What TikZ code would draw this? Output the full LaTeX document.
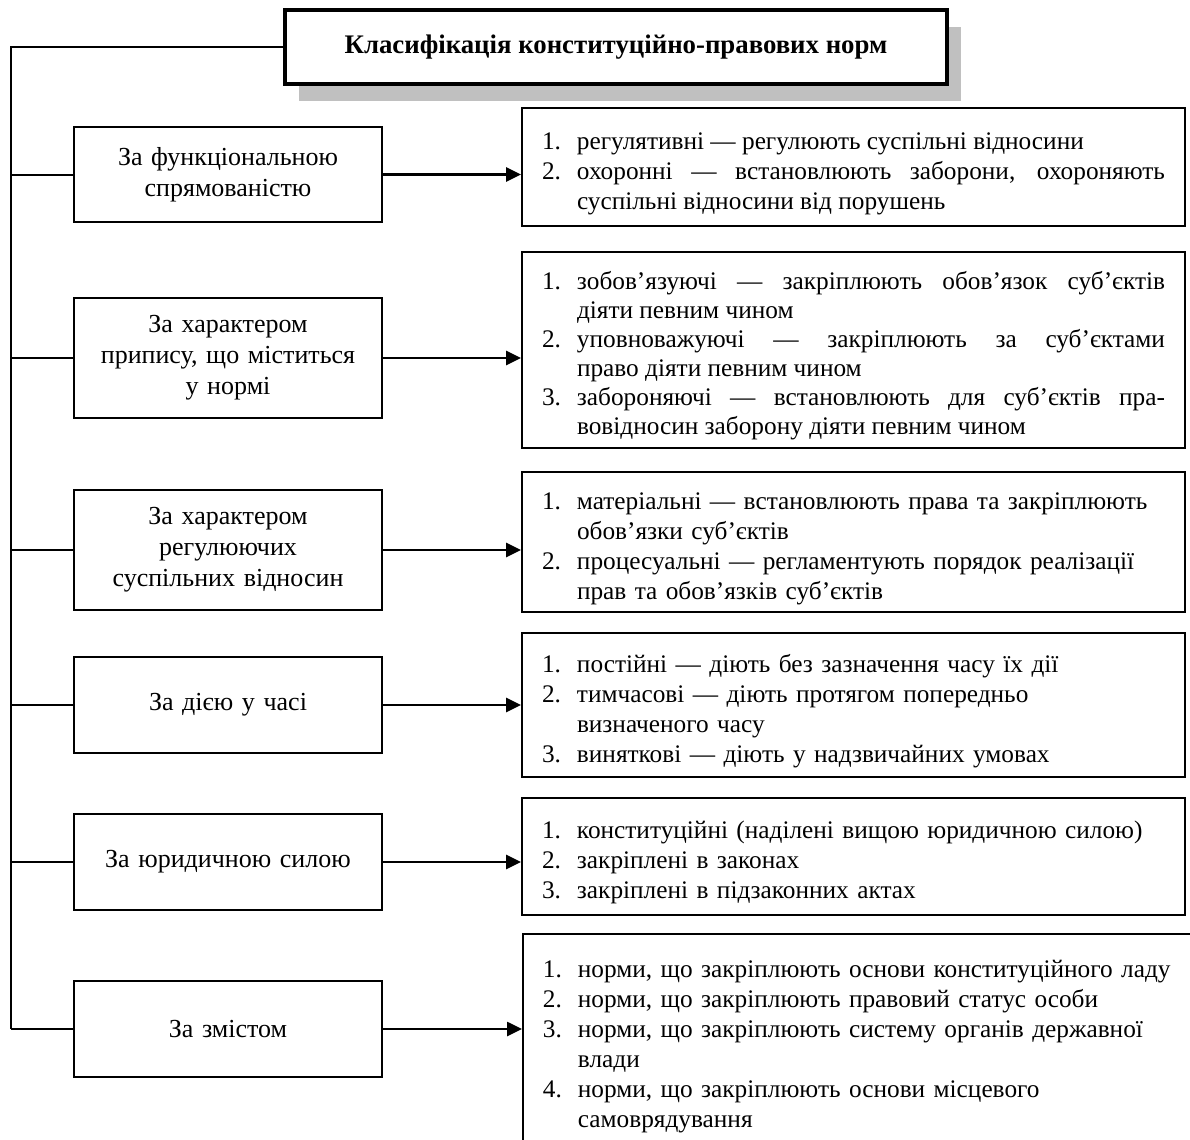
\documentclass[tikz,border=0pt]{standalone}
\usepackage{fontspec}
\setmainfont{Liberation Serif}
\usetikzlibrary{arrows.meta,shadows}
\definecolor{kpnInk}{HTML}{000000}
\definecolor{kpnShadow}{HTML}{C0C0C0}
% numbered item with hanging indent (one paragraph each)
\newcommand\kpnitem[2]{\par\noindent\hangindent=17.5pt\hangafter=1\makebox[17.5pt][l]{#1}#2\par}
\tikzset{
  kpn title/.style={draw=kpnInk, line width=1.7pt, fill=white, minimum width=331pt, minimum height=37pt, inner sep=0pt,
    font=\bfseries\fontsize{13.4}{16}\selectfont,
    drop shadow={shadow xshift=7pt, shadow yshift=-8.25pt, fill=kpnShadow, opacity=1}},
  kpn crit/.style={draw=kpnInk, line width=0.9pt, minimum width=154pt, text width=146pt, inner xsep=4pt, align=center,
    font=\fontsize{13}{15.5}\selectfont},
  kpn list/.style={draw=kpnInk, line width=0.9pt, text width=311.5pt, inner xsep=10pt, align=left,
    font=\fontsize{12.65}{15}\selectfont},
  kpn spine/.style={draw=kpnInk, line width=1.1pt},
  kpn link/.style={draw=kpnInk, line width=1pt},
  kpn arrow/.style={draw=kpnInk, line width=1.3pt, -{Triangle[length=7.5pt, width=7pt]}},
}

\begin{document}
\begin{tikzpicture}[x=0.5pt, y=-0.5pt]
  \useasboundingbox (0,0) rectangle (1190,1140);
  % Title with grey shadow
  \node[kpn title] (title) at (616,47) {Класифікація конституційно-правових норм};
  % Criteria (left column)
  \node[kpn crit, minimum height=47.5pt] (b1) at (228,174.5) {За функціональною\\ спрямованістю};
  \node[kpn crit, minimum height=60pt] (b2) at (228,358) {За характером\\ припису, що міститься\\ у нормі};
  \node[kpn crit, minimum height=60pt] (b3) at (228,550) {За характером\\ регулюючих\\ суспільних відносин};
  \node[kpn crit, minimum height=48pt] (b4) at (228,705) {За дією у часі};
  \node[kpn crit, minimum height=48pt] (b5) at (228,862) {За юридичною силою};
  \node[kpn crit, minimum height=48pt] (b6) at (228,1029) {За змістом};
  % Kinds of norms (right column)
  \node[kpn list, align=justify, minimum height=59pt] (r1) at (853.5,167) {%
    \kpnitem{1.}{регулятивні — регулюють суспільні відносини}
    \kpnitem{2.}{охоронні — встановлюють заборони, охороняють\linebreak суспільні відносини від порушень}};
  \node[kpn list, align=justify, minimum height=98pt, font=\fontsize{12.65}{14.5}\selectfont] (r2) at (853.5,350) {%
    \kpnitem{1.}{зобов’язуючі — закріплюють обов’язок суб’єктів\linebreak діяти певним чином}
    \kpnitem{2.}{уповноважуючі — закріплюють за суб’єктами\linebreak право діяти певним чином}
    \kpnitem{3.}{забороняючі — встановлюють для суб’єктів пра-\linebreak вовідносин заборону діяти певним чином}};
  \node[kpn list, minimum height=70pt] (r3) at (853.5,542) {%
    \kpnitem{1.}{матеріальні — встановлюють права та закріплюють\linebreak обов’язки суб’єктів}
    \kpnitem{2.}{процесуальні — регламентують порядок реалізації\linebreak прав та обов’язків суб’єктів}};
  \node[kpn list, minimum height=72pt] (r4) at (853.5,705) {%
    \kpnitem{1.}{постійні — діють без зазначення часу їх дії}
    \kpnitem{2.}{тимчасові — діють протягом попередньо\linebreak визначеного часу}
    \kpnitem{3.}{виняткові — діють у надзвичайних умовах}};
  \node[kpn list, minimum height=58.5pt] (r5) at (853.5,856.5) {%
    \kpnitem{1.}{конституційні (наділені вищою юридичною силою)}
    \kpnitem{2.}{закріплені в законах}
    \kpnitem{3.}{закріплені в підзаконних актах}};
  \node[kpn list, text width=330pt, minimum height=106pt, anchor=north west] (r6) at (522,933) {%
    \kpnitem{1.}{норми, що закріплюють основи конституційного ладу}
    \kpnitem{2.}{норми, що закріплюють правовий статус особи}
    \kpnitem{3.}{норми, що закріплюють систему органів державної\linebreak влади}
    \kpnitem{4.}{норми, що закріплюють основи місцевого\linebreak самоврядування}};
  % Spine from the title down the left side
  \coordinate (spine end) at (11,1029);
  \draw[kpn spine] (title.west) -| (spine end);
  \foreach \i in {1,...,6} {
    \draw[kpn link] (b\i.west) -- (b\i.west -| spine end);
    \draw[kpn arrow] (b\i.east) -- (b\i.east -| r\i.west);
  }
\end{tikzpicture}
\end{document}
